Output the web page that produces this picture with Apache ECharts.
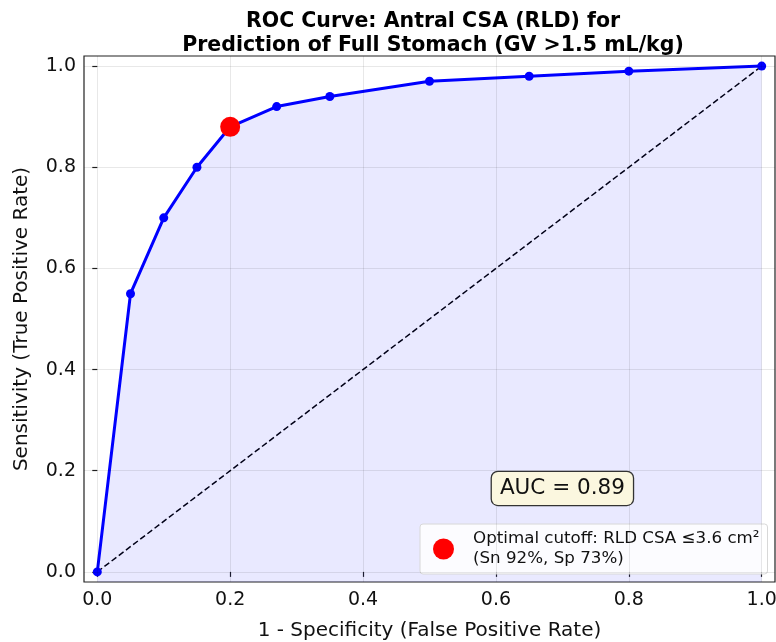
<!DOCTYPE html>
<html><head><meta charset="utf-8">
<script src="https://cdn.jsdelivr.net/npm/echarts@6/dist/echarts.min.js"></script>
<style>html,body{margin:0;padding:0;background:#fff}#c{width:776px;height:642px}</style>
</head><body><div id="c"></div>
<script>
var fpr = [0.0, 0.05, 0.10, 0.15, 0.20, 0.27, 0.35, 0.50, 0.65, 0.80, 1.0];
var tpr = [0.0, 0.55, 0.70, 0.80, 0.88, 0.92, 0.94, 0.97, 0.98, 0.99, 1.0];
var diagX = [0, 1];
var diagY = [0, 1];
var optimal = [0.20, 0.88];
var tickValues = [0, 0.2, 0.4, 0.6, 0.8, 1.0];
var aucText = 'AUC = 0.89';
var aucPos = [0.70, 0.165];
var legendName = 'Optimal cutoff: RLD CSA \u22643.6 cm\u00b2\n(Sn 92%, Sp 73%)';

var rocData = fpr.map(function(x, i){ return [x, tpr[i]]; });
var diagData = diagX.map(function(x, i){ return [x, diagY[i]]; });
var FONT = 'DejaVu Sans';
var chart = echarts.init(document.getElementById('c'));

function gridLines(axis){
  return tickValues.map(function(v){
    return axis === 'x' ? {xAxis: v} : {yAxis: v};
  });
}

chart.setOption({
  animation: false,
  textStyle: {fontFamily: FONT},
  title: {
    text: 'ROC Curve: Antral CSA (RLD) for\nPrediction of Full Stomach (GV >1.5 mL/kg)',
    left: 428, top: 5, textAlign: 'center',
    textStyle: {fontFamily: FONT, fontSize: 20.5, fontWeight: 'bold', color: '#000', lineHeight: 24}
  },
  grid: {left: 84, right: 1, top: 56, bottom: 60, containLabel: false, outerBoundsMode: 'none',
    show: true, borderColor: '#222', borderWidth: 1.2, backgroundColor: 'transparent'},
  xAxis: {
    type: 'value', min: -0.02, max: 1.02,
    name: '1 - Specificity (False Positive Rate)', nameLocation: 'middle', nameGap: 39,
    nameTextStyle: {fontFamily: FONT, fontSize: 20, color: '#111'},
    axisLine: {show: false},
    axisTick: {show: true, length: 5, lineStyle: {color: '#222', width: 1.2}, customValues: tickValues},
    axisLabel: {fontFamily: FONT, fontSize: 19, color: '#111', margin: 9, customValues: tickValues,
      formatter: function(v){ return v.toFixed(1); }},
    splitLine: {show: false}
  },
  yAxis: {
    type: 'value', min: -0.02, max: 1.02,
    name: 'Sensitivity (True Positive Rate)', nameLocation: 'middle', nameGap: 52,
    nameTextStyle: {fontFamily: FONT, fontSize: 20, color: '#111'},
    axisLine: {show: false},
    axisTick: {show: true, length: 5, lineStyle: {color: '#222', width: 1.2}, customValues: tickValues},
    axisLabel: {fontFamily: FONT, fontSize: 19, color: '#111', margin: 8, customValues: tickValues,
      formatter: function(v){ return v.toFixed(1); }},
    splitLine: {show: false}
  },
  legend: {
    data: [legendName],
    left: 420, top: 524,
    orient: 'vertical',
    backgroundColor: 'rgba(255,255,255,0.85)',
    borderColor: '#d8d8d8', borderWidth: 1, borderRadius: 3,
    padding: [5, 8, 5, 13],
    itemWidth: 21, itemHeight: 21, itemGap: 6,
    icon: 'circle',
    textStyle: {fontFamily: FONT, fontSize: 16.7, color: '#111', lineHeight: 20, padding: [0, 0, 0, 14]}
  },
  series: [
    {
      type: 'line', name: 'grid', data: [], silent: true,
      markLine: {
        silent: true, symbol: 'none', label: {show: false},
        lineStyle: {color: 'rgba(0,0,0,0.09)', type: 'solid', width: 1},
        data: gridLines('x').concat(gridLines('y'))
      }
    },
    {
      type: 'line', name: 'ROC', data: rocData, z: 3,
      lineStyle: {color: '#0000ff', width: 3},
      itemStyle: {color: '#0000ff'},
      symbol: 'circle', symbolSize: 9, showSymbol: true,
      areaStyle: {color: 'rgba(0,0,255,0.125)', origin: 'start'},
      markPoint: {
        symbol: 'circle', symbolSize: 0,
        data: [{coord: aucPos, value: aucText}],
        label: {
          show: true, position: 'inside', formatter: aucText,
          fontFamily: FONT, fontSize: 21.5, color: '#111',
          backgroundColor: '#fbf7df', borderColor: '#333', borderWidth: 1.3, borderRadius: 6,
          padding: [6, 8, 5, 8]
        }
      }
    },
    {
      type: 'line', name: 'diag', data: diagData, z: 2,
      lineStyle: {color: '#000', width: 1.5, type: [6, 3]},
      symbol: 'none'
    },
    {
      type: 'scatter', name: legendName, data: [optimal], z: 5,
      symbol: 'circle', symbolSize: 20,
      itemStyle: {color: '#ff0000', opacity: 1}
    }
  ]
});
</script></body></html>
